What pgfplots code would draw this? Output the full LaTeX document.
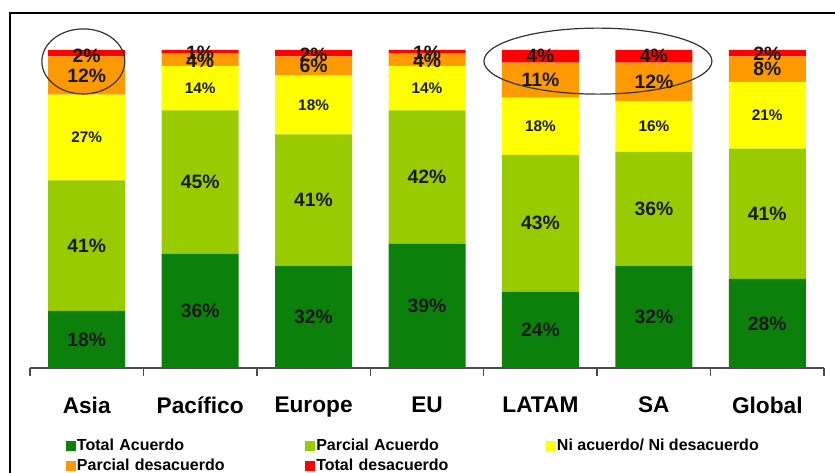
\documentclass[border=0pt]{standalone}
\usepackage{fontspec}
\setmainfont{Liberation Sans}
\usepackage{pgfplots}
\pgfplotsset{compat=1.18}
\definecolor{cTA}{HTML}{0B800B}
\definecolor{cPA}{HTML}{99CC00}
\definecolor{cNi}{HTML}{FFFF00}
\definecolor{cPD}{HTML}{FF9900}
\definecolor{cTD}{HTML}{FF0000}
\pgfplotsset{
  myaxis/.style={scale only axis, width=595.5pt, height=238.5pt,
    xmin=-0.5, xmax=6.5, ymin=0, ymax=100,
    at={(22.5pt,78.75pt)}, anchor=south west, clip=false},
  sqlegend/.style={legend image code/.code={\fill[##1] (0pt,-3.75pt) rectangle (7.5pt,3.75pt);}},
  lbl/.style={draw=none, mark=none, nodes near coords={\pgfplotspointmeta\%},
    point meta=explicit symbolic, nodes near coords align=center,
    every node near coord/.append style={anchor=center, text=black!90, inner sep=0pt, font=#1}},
}
\begin{document}
\begin{tikzpicture}[x=1pt,y=1pt]
\useasboundingbox (0,0) rectangle (626.25,354.75);
\begin{axis}[myaxis, ybar stacked, bar width=57.75pt,
  axis x line*=bottom, axis y line=none,
  x axis line style={gray!60!black, line width=1pt},
  xtick={0,...,6}, xticklabels={Asia, Pacífico, Europe, EU, LATAM, SA, Global},
  major tick length=0pt,
  minor xtick={-0.5,0.5,...,6.5}, minor tick length=6pt, xtick align=outside,
  minor tick style={gray!60!black, line width=1pt},
  xticklabel style={font=\bfseries\fontsize{17}{20}\selectfont, anchor=north, yshift=-18pt},
  legend columns=3,
  legend style={at={(0.0395,-0.208)}, anchor=north west, draw=none, fill=none,
    font=\bfseries\fontsize{12}{14}\selectfont, row sep=1pt,
    nodes={inner sep=1pt, text height=9pt, text depth=3pt},
    /tikz/column 2/.style={text width=170pt},
    /tikz/column 4/.style={text width=171pt}},
  legend cell align=left,
]
\addplot[fill=cTA, draw=none, sqlegend] coordinates {(0,18) (1,36) (2,32) (3,39) (4,24) (5,32) (6,28)};
\addplot[fill=cPA, draw=none, sqlegend] coordinates {(0,41) (1,45) (2,41.5) (3,42) (4,43) (5,36) (6,41)};
\addplot[fill=cNi, draw=none, sqlegend] coordinates {(0,27) (1,14) (2,18.5) (3,14) (4,18) (5,16) (6,21)};
\addplot[fill=cPD, draw=none, sqlegend] coordinates {(0,12) (1,4) (2,6) (3,4) (4,11) (5,12) (6,8)};
\addplot[fill=cTD, draw=none, sqlegend] coordinates {(0,2) (1,1) (2,2) (3,1) (4,4) (5,4) (6,2)};
\legend{Total Acuerdo, Parcial Acuerdo, Ni acuerdo/ Ni desacuerdo, Parcial desacuerdo, Total desacuerdo}
\end{axis}
\begin{axis}[myaxis, hide axis]
\addplot[lbl={\bfseries\fontsize{14.5}{16}\selectfont}] coordinates {(0,9)[18] (1,18)[36] (2,16)[32] (3,19.5)[39] (4,12)[24] (5,16)[32] (6,14)[28]};
\addplot[lbl={\bfseries\fontsize{14.5}{16}\selectfont}] coordinates {(0,38.5)[41] (1,58.5)[45] (2,52.75)[41] (3,60)[42] (4,45.5)[43] (5,50)[36] (6,48.5)[41]};
\addplot[lbl={\bfseries\fontsize{11.5}{14}\selectfont}] coordinates {(0,72.5)[27] (1,88)[14] (2,82.75)[18] (3,88)[14] (4,76)[18] (5,76)[16] (6,79.5)[21]};
\addplot[lbl={\bfseries\fontsize{14.5}{16}\selectfont}] coordinates {(0,92)[12] (1,96.6)[4] (2,95)[6] (3,96.6)[4] (4,90.5)[11] (5,90)[12] (6,94)[8]};
\addplot[lbl={\bfseries\fontsize{14.5}{16}\selectfont}] coordinates {(0,98.2)[2] (1,99.2)[1] (2,98.6)[2] (3,99.2)[1] (4,98)[4] (5,98)[4] (6,98.8)[2]};
\draw[line width=0.9pt, black!80] (axis cs:-0.03,96.4) ellipse [x radius=31.1pt, y radius=24.4pt];
\draw[line width=0.9pt, black!80] (axis cs:4.507,96.5) ellipse [x radius=85.5pt, y radius=24.75pt];
\end{axis}
\draw[line width=1.5pt] (7.5,-5) -- (7.5,345) -- (640,345);
\end{tikzpicture}
\end{document}
